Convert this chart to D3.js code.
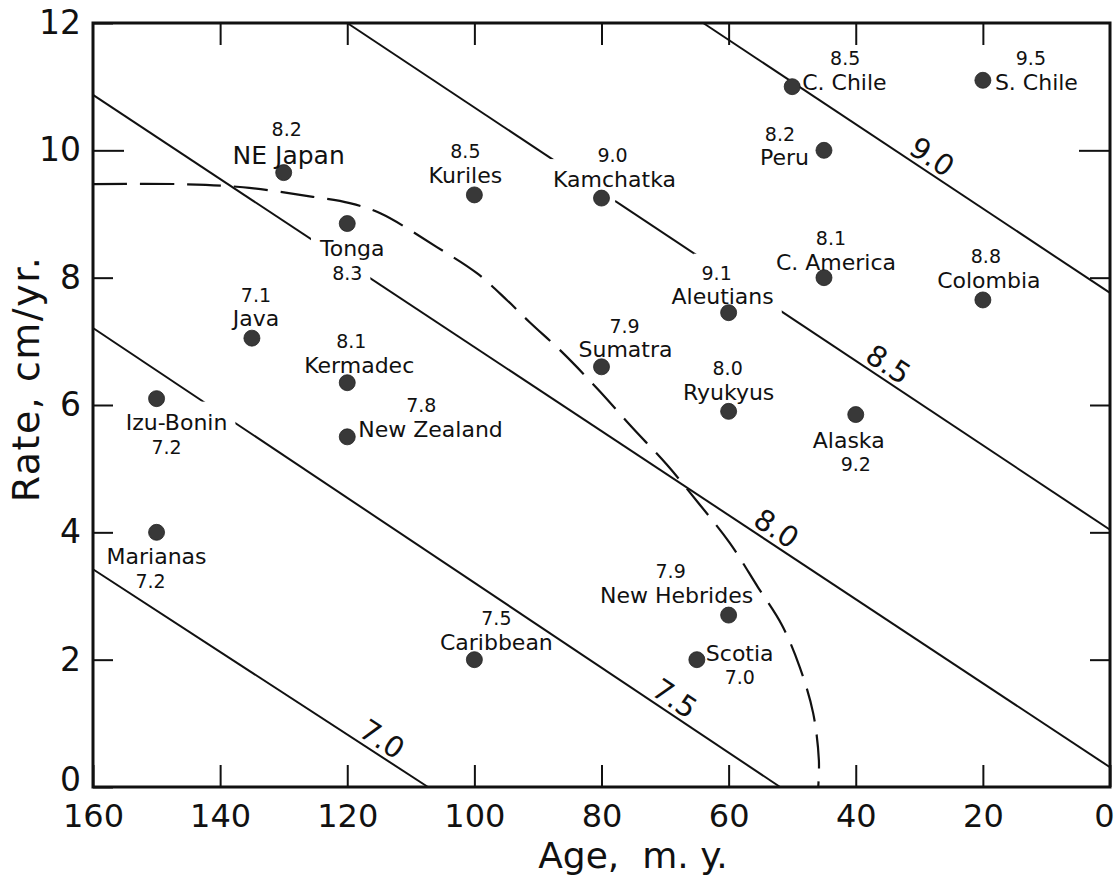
<!DOCTYPE html>
<html><head><meta charset="utf-8">
<script src="https://cdn.jsdelivr.net/npm/d3@7"></script>
<style>
body{margin:0;background:#fff;}
svg{display:block;font-family:"DejaVu Sans",sans-serif;}
</style></head><body>
<svg id="chart" width="1119" height="880"></svg>
<script>
// ---------------- data ----------------
const trenches   = ["NE Japan","Tonga","Kuriles","Kamchatka","C. Chile","S. Chile","Peru","C. America","Colombia","Aleutians","Sumatra","Ryukyus","Alaska","Java","Kermadec","New Zealand","Izu-Bonin","Marianas","Caribbean","New Hebrides","Scotia"];
const ages       = [130,120,100,80,50,20,45,45,20,60,80,60,40,135,120,120,150,150,100,60,65];
const rates      = [9.65,8.85,9.3,9.25,11.0,11.1,10.0,8.0,7.65,7.45,6.6,5.9,5.85,7.05,6.35,5.5,6.1,4.0,2.0,2.7,2.0];
const magnitudes = ["8.2","8.3","8.5","9.0","8.5","9.5","8.2","8.1","8.8","9.1","7.9","8.0","9.2","7.1","8.1","7.8","7.2","7.2","7.5","7.9","7.0"];

const contourLabels    = ["7.0","7.5","8.0","8.5","9.0"];
const contourStartAge  = [160,160,160,120,64];
const contourStartRate = [3.42,7.21,10.87,12,12];
const contourEndAge    = [107.3,51.9,0,0,0];
const contourEndRate   = [0,0,0.31,4.04,7.76];
const contourLabelAge  = [115.8,69.8,53.8,36.2,29.3];

const boundaryAges  = [160,146.6,136.4,125.4,119.6,114.8,105.9,99.6,94.9,91.3,86.2,80.5,75.2,69.7,64.5,59.8,55.4,51.6,48.8,46.7,45.8,45.9];
const boundaryRates = [9.47,9.47,9.42,9.27,9.17,9.01,8.48,8.07,7.65,7.3,6.83,6.24,5.65,5.06,4.43,3.83,3.14,2.54,1.88,1.16,0.42,0];

const xTicks = [160,140,120,100,80,60,40,20,0];
const yTicks = [0,2,4,6,8,10,12];

// ---------------- label layout (presentation only) ----------------
// [dx, dy, anchor(, size)] relative to the dot, for the name and for the magnitude
const labelLayout = {
  "NE Japan":    {name:[5,-9,"middle",25], num:[3,-37,"middle"]},
  "Tonga":       {name:[5,32,"middle"],  num:[0,56,"middle"], gap:true},
  "Kuriles":     {name:[-9,-12,"middle"], num:[-9,-37,"middle"]},
  "Kamchatka":   {name:[13,-11,"middle"], num:[11,-36,"middle"], gap:true},
  "C. Chile":    {name:[10,3,"start"],   num:[53,-22,"middle"]},
  "S. Chile":    {name:[12,10,"start"],  num:[48,-15,"middle"]},
  "Peru":        {name:[-15,15,"end"],   num:[-44,-9,"middle"]},
  "C. America":  {name:[12,-8,"middle"], num:[7,-33,"middle"]},
  "Colombia":    {name:[6,-12,"middle"], num:[3,-37,"middle"]},
  "Aleutians":   {name:[-6,-9,"middle"], num:[-12,-33,"middle"], gap:true},
  "Sumatra":     {name:[24,-10,"middle"], num:[23,-34,"middle"]},
  "Ryukyus":     {name:[0,-11,"middle"], num:[-1,-36,"middle"]},
  "Alaska":      {name:[-7,33,"middle"], num:[0,56,"middle"]},
  "Java":        {name:[4,-12,"middle"], num:[4,-36,"middle"]},
  "Kermadec":    {name:[12,-10,"middle"], num:[4,-35,"middle"]},
  "New Zealand": {name:[11,0,"start"],   num:[74,-25,"middle"]},
  "Izu-Bonin":   {name:[20,31,"middle"], num:[10,55,"middle"], gap:true},
  "Marianas":    {name:[0,32,"middle"],  num:[-6,56,"middle"]},
  "Caribbean":   {name:[22,-10,"middle"], num:[22,-35,"middle"]},
  "New Hebrides":{name:[-52,-12,"middle"], num:[-58,-37,"middle"]},
  "Scotia":      {name:[9,1,"start"],    num:[43,24,"middle"]}
};

// ---------------- drawing ----------------
const svg = d3.select("#chart");
const ink = "#111";
const x = d3.scaleLinear().domain([160,0]).range([93,1110]);
const y = d3.scaleLinear().domain([0,12]).range([787,23]);

// mask for line gaps
const defs = svg.append("defs");
const mask = defs.append("mask").attr("id","gapMask").attr("maskUnits","userSpaceOnUse")
  .attr("x",0).attr("y",0).attr("width",1119).attr("height",880);
mask.append("rect").attr("x",0).attr("y",0).attr("width",1119).attr("height",880).attr("fill","#fff");

// contour lines
const gLines = svg.append("g").attr("mask","url(#gapMask)");
const line = d3.line().x(d=>x(d[0])).y(d=>y(d[1]));
contourLabels.forEach((lab,i)=>{
  gLines.append("path")
    .attr("d", line([[contourStartAge[i],contourStartRate[i]],[contourEndAge[i],contourEndRate[i]]]))
    .attr("fill","none").attr("stroke",ink).attr("stroke-width",2);
});

// contour labels
contourLabels.forEach((lab,i)=>{
  const a0=contourStartAge[i], r0=contourStartRate[i], a1=contourEndAge[i], r1=contourEndRate[i];
  const t=(contourLabelAge[i]-a0)/(a1-a0);
  const r=r0+t*(r1-r0);
  const px=x(contourLabelAge[i]), py=y(r);
  const ang=Math.atan2(y(r1)-y(r0), x(a1)-x(a0))*180/Math.PI;
  svg.append("text").attr("transform",`translate(${px},${py}) rotate(${ang})`)
    .attr("x",0).attr("y",-5).attr("text-anchor","middle")
    .attr("font-size",29).attr("fill",ink).text(lab);
});

// boundary dashed curve
const bpts = boundaryAges.map((a,i)=>[a,boundaryRates[i]]);
svg.append("path")
  .attr("d", d3.line().x(d=>x(d[0])).y(d=>y(d[1])).curve(d3.curveCatmullRom)(bpts))
  .attr("fill","none").attr("stroke",ink).attr("stroke-width",2.2)
  .attr("stroke-dasharray","34,13");

// dots
svg.append("g").selectAll("circle").data(trenches).join("circle")
  .attr("cx",(d,i)=>x(ages[i])).attr("cy",(d,i)=>y(rates[i])).attr("r",8)
  .attr("fill","#383838").attr("stroke","#222").attr("stroke-width",0.8);

// labels
const gLab = svg.append("g");
trenches.forEach((nm,i)=>{
  const L=labelLayout[nm];
  const px=x(ages[i]), py=y(rates[i]);
  const t1=gLab.append("text").attr("x",px+L.name[0]).attr("y",py+L.name[1])
    .attr("text-anchor",L.name[2]).attr("font-size",L.name[3]||22).attr("fill",ink).text(nm);
  const t2=gLab.append("text").attr("x",px+L.num[0]).attr("y",py+L.num[1])
    .attr("text-anchor",L.num[2]).attr("font-size",19).attr("fill",ink).text(magnitudes[i]);
  if(L.gap){
    [t1,t2].forEach(t=>{
      const b=t.node().getBBox(), p=8;
      mask.append("rect").attr("x",b.x-p).attr("y",b.y-p).attr("width",b.width+2*p).attr("height",b.height+2*p).attr("fill","#000");
    });
    mask.append("circle").attr("cx",px).attr("cy",py).attr("r",14).attr("fill","#000");
  }
});

// axes
function styleAxis(g){
  g.select(".domain").remove();
  g.selectAll(".tick line").attr("stroke",ink).attr("stroke-width",2);
  g.selectAll(".tick text").attr("fill",ink).attr("font-family","DejaVu Sans, sans-serif");
}
const gB = svg.append("g").attr("transform",`translate(0,${y(0)})`)
  .call(d3.axisBottom(x).tickValues(xTicks).tickSizeInner(-22).tickSizeOuter(0).tickPadding(17).tickFormat(d3.format("d")));
styleAxis(gB); gB.selectAll(".tick text").attr("font-size",32);
gB.selectAll(".tick").filter(d=>d===0).select("text").attr("dx",-6);
const gL = svg.append("g").attr("transform",`translate(${x(160)},0)`)
  .call(d3.axisLeft(y).tickValues(yTicks).tickSizeInner(-20).tickSizeOuter(0).tickPadding(12).tickFormat(d3.format("d")));
styleAxis(gL); gL.selectAll(".tick text").attr("font-size",33);
gL.selectAll(".tick").filter(d=>d===0).select("text").attr("y",-7);
gL.selectAll(".tick").filter(d=>d===10).select("line").attr("x2",31);
const gT = svg.append("g").attr("transform",`translate(0,${y(12)})`)
  .call(d3.axisTop(x).tickValues(xTicks.filter(d=>d!==160&&d!==0)).tickSizeInner(-22).tickSizeOuter(0).tickFormat(""));
styleAxis(gT);
const gR = svg.append("g").attr("transform",`translate(${x(0)},0)`)
  .call(d3.axisRight(y).tickValues(yTicks.filter(d=>d!==0&&d!==12)).tickSizeInner(-20).tickSizeOuter(0).tickFormat(""));
styleAxis(gR);
gR.selectAll(".tick").filter(d=>d===10).select("line").attr("x2",-31);

// frame
svg.append("rect").attr("x",x(160)).attr("y",y(12)).attr("width",x(0)-x(160)).attr("height",y(0)-y(12))
  .attr("fill","none").attr("stroke",ink).attr("stroke-width",3);

// axis titles
svg.append("text").attr("x",633).attr("y",868).attr("text-anchor","middle")
  .attr("font-size",36).attr("fill",ink).style("white-space","pre").text("Age,  m. y.");
svg.append("text").attr("transform","translate(39,379) rotate(-90)").attr("text-anchor","middle")
  .attr("font-size",38).attr("letter-spacing",1.5).attr("fill",ink).text("Rate, cm/yr.");
</script>
</body></html>
